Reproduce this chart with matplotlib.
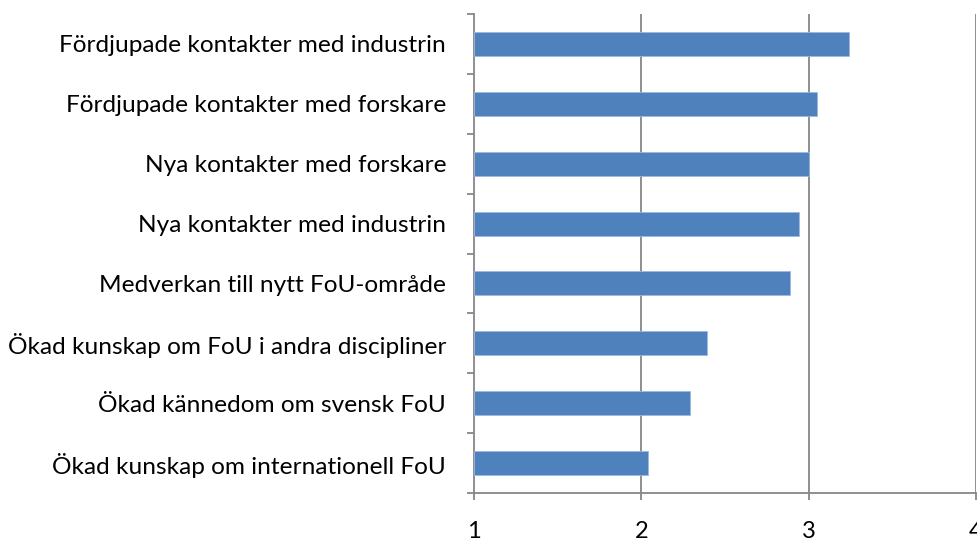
import matplotlib
matplotlib.use('Agg')
import matplotlib.pyplot as plt
import numpy as np

plt.rcParams.update({
    'font.family': ['Lato', 'DejaVu Sans'],
    'figure.facecolor': 'white',
    'axes.facecolor': 'white',
})

GRA = '#868686'
BLA = '#4F81BD'

kategorier = [
    'Fördjupade kontakter med industrin',
    'Fördjupade kontakter med forskare',
    'Nya kontakter med forskare',
    'Nya kontakter med industrin',
    'Medverkan till nytt FoU-område',
    'Ökad kunskap om FoU i andra discipliner',
    'Ökad kännedom om svensk FoU',
    'Ökad kunskap om internationell FoU',
]
medel = [3.24, 3.05, 3.00, 2.94, 2.89, 2.39, 2.29, 2.04]
x_ticks = [1, 2, 3, 4]

fig = plt.figure(figsize=(9.78, 5.39), dpi=100)
ax = fig.add_axes([474 / 978, 46 / 539, 502 / 978, 479 / 539])

y = np.arange(len(kategorier))[::-1]
ax.barh(y, np.array(medel) - 1, left=1, height=0.4,
        color=BLA, edgecolor='#9DB9DE', linewidth=0.6, zorder=3)

ax.set_xlim(1, 4)
ax.set_ylim(-0.5, len(kategorier) - 0.5)

# rutnät vid 2, 3, 4
for v in x_ticks[1:]:
    ax.axvline(v, color=GRA, linewidth=1.3, zorder=1)

for s in ['top', 'right']:
    ax.spines[s].set_visible(False)
for s in ['left', 'bottom']:
    ax.spines[s].set_color(GRA)
    ax.spines[s].set_linewidth(1.3)

ax.set_xticks(x_ticks)
ax.set_xticklabels([str(t) for t in x_ticks])
ax.tick_params(axis='x', direction='out', length=5, width=1.3,
               color=GRA, labelsize=17, pad=15, labelcolor='black')

# kategorietiketter, streck mellan kategorierna
ax.set_yticks(y)
ax.set_yticklabels(kategorier)
ax.tick_params(axis='y', length=0, labelsize=17.6, pad=20, labelcolor='black')
ax.set_yticks(np.arange(-0.5, len(kategorier)), minor=True)
ax.tick_params(axis='y', which='minor', direction='out', length=5,
               width=1.3, color=GRA)

fig.savefig('out.png', dpi=100, facecolor='white')
